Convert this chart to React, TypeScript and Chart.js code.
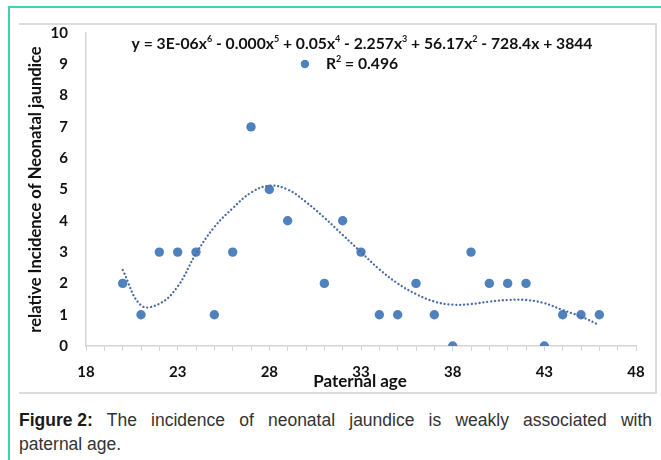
import React, { useEffect, useRef } from 'react';
import { Chart, registerables } from 'chart.js';

Chart.register(...registerables);

// ---- data ----
const paternalAges = [20, 21, 22, 23, 24, 25, 26, 27, 28, 29, 31, 32, 33, 34, 35, 36, 37, 38, 39, 40, 41, 42, 43, 44, 45, 46];
const incidence = [2, 1, 3, 3, 3, 1, 3, 7, 5, 4, 2, 4, 3, 1, 1, 2, 1, 0, 3, 2, 2, 2, 0, 1, 1, 1];

const trendAges = [20, 21, 22, 23, 24, 25, 26, 27, 28, 29, 30, 31, 32, 33, 34, 35, 36, 37, 38, 39, 40, 41, 42, 43, 44, 45, 46];
const trendValues = [2.43, 1.3, 1.35, 1.9, 2.95, 3.8, 4.4, 4.9, 5.12, 5.0, 4.6, 4.1, 3.55, 3.0, 2.45, 2.0, 1.66, 1.42, 1.32, 1.34, 1.42, 1.47, 1.47, 1.37, 1.15, 0.94, 0.67];

const xLabelTicks = [18, 23, 28, 33, 38, 43, 48];
const yTicks = [0, 1, 2, 3, 4, 5, 6, 7, 8, 9, 10];

const equationParts: [string, boolean][] = [
  ['y = 3E-06x', false], ['6', true], [' - 0.000x', false], ['5', true], [' + 0.05x', false], ['4', true],
  [' - 2.257x', false], ['3', true], [' + 56.17x', false], ['2', true], [' - 728.4x + 3844', false],
];
const rSquaredParts: [string, boolean][] = [['R', false], ['2', true], [' = 0.496', false]];

const xTitle = 'Paternal age';
const yTitle = 'relative Incidence of Neonatal jaundice';
const captionLabel = 'Figure 2:';
const captionLine1 = 'The incidence of neonatal jaundice is weakly associated with';
const captionLine2 = 'paternal age.';

const FONT = 'Lato, "Open Sans", sans-serif';
const POINT_COLOR = '#4f81bd';
const TREND_COLOR = '#4a6ca8';
const TEXT_COLOR = '#111';

function drawRich(ctx: CanvasRenderingContext2D, parts: [string, boolean][], cx: number, cy: number, size: number) {
  const base = `bold ${size}px ${FONT}`;
  const sup = `bold ${Math.round(size * 0.6)}px ${FONT}`;
  let total = 0;
  for (const [t, s] of parts) {
    ctx.font = s ? sup : base;
    total += ctx.measureText(t).width;
  }
  let x = cx - total / 2;
  const startX = x;
  ctx.textBaseline = 'middle';
  ctx.textAlign = 'left';
  for (const [t, s] of parts) {
    ctx.font = s ? sup : base;
    ctx.fillText(t, x, s ? cy - size * 0.3 : cy);
    x += ctx.measureText(t).width;
  }
  return startX;
}

const overlayPlugin = {
  id: 'overlay',
  afterDraw(chart: any) {
    const ctx: CanvasRenderingContext2D = chart.ctx;
    const { left, right, top, bottom } = chart.chartArea;
    const cx = (left + right) / 2;
    ctx.save();
    ctx.fillStyle = TEXT_COLOR;
    drawRich(ctx, equationParts, cx + 1, top + 11, 15.7);
    const rStart = drawRich(ctx, rSquaredParts, cx + 1, top + 31, 15.7);
    ctx.fillStyle = POINT_COLOR;
    ctx.beginPath();
    ctx.arc(rStart - 21, top + 31, 4.2, 0, Math.PI * 2);
    ctx.fill();

    ctx.fillStyle = TEXT_COLOR;
    ctx.font = `bold 17px ${FONT}`;
    ctx.textAlign = 'center';
    ctx.textBaseline = 'middle';
    ctx.fillText(xTitle, cx - 1, bottom + 36);

    ctx.translate(36, (top + bottom) / 2);
    ctx.rotate(-Math.PI / 2);
    ctx.font = `bold 16.6px ${FONT}`;
    ctx.fillText(yTitle, 0, 0);
    ctx.restore();
  },
};

export default function App() {
  const ref = useRef<HTMLCanvasElement>(null);

  useEffect(() => {
    const chart = new Chart(ref.current as HTMLCanvasElement, {
      type: 'scatter',
      data: {
        datasets: [
          {
            label: 'trend',
            data: trendAges.map((x, i) => ({ x, y: trendValues[i] })),
            showLine: true,
            borderColor: TREND_COLOR,
            borderWidth: 2.3,
            borderDash: [0.1, 3.8],
            borderCapStyle: 'round',
            pointRadius: 0,
            tension: 0.4,
            fill: false,
            order: 0,
          } as any,
          {
            label: 'points',
            data: paternalAges.map((x, i) => ({ x, y: incidence[i] })),
            backgroundColor: POINT_COLOR,
            borderColor: POINT_COLOR,
            borderWidth: 0,
            pointRadius: 4.7,
            order: 1,
          },
        ],
      },
      options: {
        responsive: false,
        animation: false,
        layout: { padding: { top: 33, right: 25, left: 0, bottom: 0 } },
        plugins: { legend: { display: false }, tooltip: { enabled: false } },
        scales: {
          x: {
            type: 'linear',
            min: 18,
            max: 48,
            ticks: {
              stepSize: 1,
              autoSkip: false,
              maxRotation: 0,
              padding: 12,
              color: TEXT_COLOR,
              font: { family: FONT, size: 15, weight: 'bold' },
              callback: (v: any) => (xLabelTicks.includes(Number(v)) ? String(v) : ''),
            },
            grid: { drawOnChartArea: false, color: '#d4d4d4', tickLength: 5, lineWidth: 1 },
            border: { color: '#d4d4d4', width: 1.5 },
            afterFit: (s: any) => { s.height = 54; },
          },
          y: {
            min: 0,
            max: 10,
            afterBuildTicks: (s: any) => { s.ticks = yTicks.map((value) => ({ value })); },
            ticks: {
              padding: 18,
              color: TEXT_COLOR,
              font: { family: FONT, size: 15, weight: 'bold' },
            },
            grid: { display: false, drawTicks: false },
            border: { color: '#d4d4d4', width: 1.5 },
            afterFit: (s: any) => { s.width = 86; },
          },
        },
      } as any,
      plugins: [overlayPlugin],
    });
    return () => chart.destroy();
  }, []);

  const captionStyle: React.CSSProperties = {
    position: 'absolute', left: 19, width: 633, fontFamily: '"Liberation Sans", Arial, sans-serif',
    fontSize: 17.5, lineHeight: '24px', color: '#333', whiteSpace: 'nowrap',
  };

  return (
    <div style={{ position: 'absolute', left: 0, top: 0, width: 661, height: 460, overflow: 'hidden', background: '#fff' }}>
      <div style={{ position: 'absolute', left: 8, top: 6, width: 2, height: 454, background: '#3fd4b4' }} />
      <div style={{ position: 'absolute', left: 8, top: 6, width: 653, height: 2, background: '#3fd4b4' }} />
      <div
        style={{
          position: 'absolute', left: 19, top: 23, width: 638, height: 371, boxSizing: 'border-box',
          borderTop: '2px solid #dcdcdc', borderRight: '2px solid #dcdcdc', borderBottom: '2px solid #dcdcdc',
        }}
      />
      <canvas ref={ref} width={661} height={400} style={{ position: 'absolute', left: 0, top: 0, width: 661, height: 400 }} />
      <div style={{ ...captionStyle, top: 408, whiteSpace: 'normal', textAlign: 'justify', textAlignLast: 'justify' }}>
        <b style={{ color: '#1a1a1a', display: 'inline-block' }}>{captionLabel}</b> {captionLine1}
      </div>
      <div style={{ ...captionStyle, top: 432 }}>{captionLine2}</div>
    </div>
  );
}
